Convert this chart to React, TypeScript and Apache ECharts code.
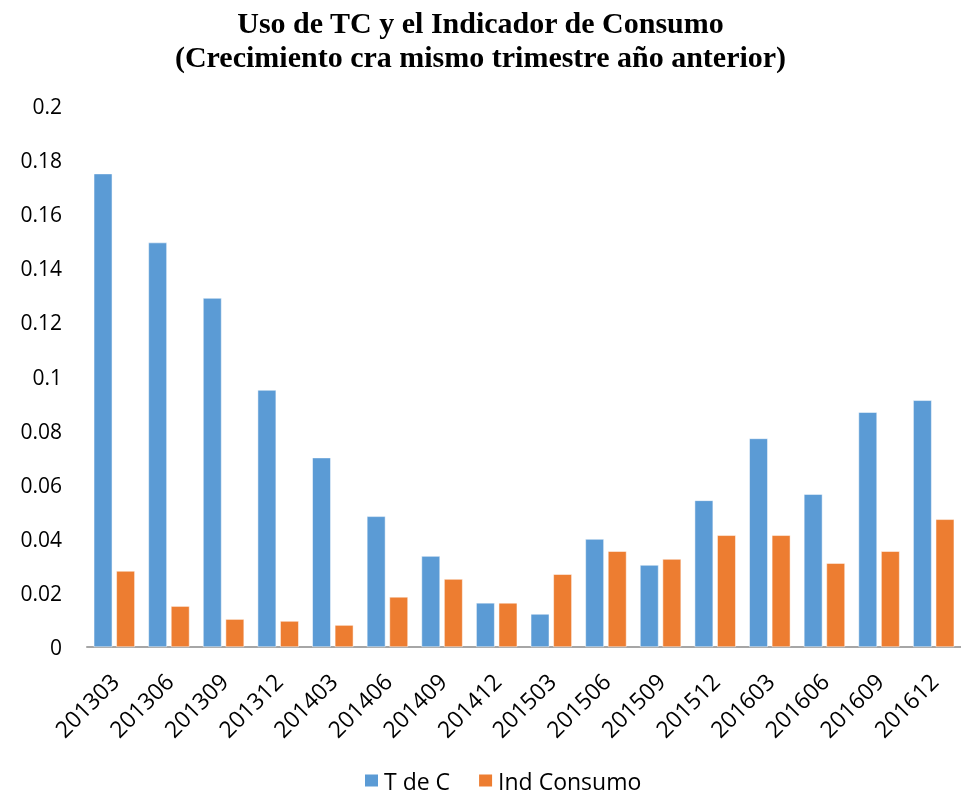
import React, { useEffect, useRef } from "react";
import * as echarts from "echarts";

const categories = ["201303","201306","201309","201312","201403","201406","201409","201412","201503","201506","201509","201512","201603","201606","201609","201612"];
const tdeC = [0.175,0.1495,0.129,0.095,0.07,0.0483,0.0336,0.0163,0.0122,0.0399,0.0303,0.0542,0.0771,0.0565,0.0868,0.0912];
const indConsumo = [0.0281,0.0151,0.0103,0.0096,0.0081,0.0185,0.0251,0.0163,0.0269,0.0354,0.0325,0.0413,0.0413,0.031,0.0354,0.0472];
const titleLines = ["Uso de TC y el Indicador de Consumo", "(Crecimiento cra mismo trimestre año anterior)"];
const seriesNames = ["T de C", "Ind Consumo"];

export default function App() {
  const ref = useRef<HTMLDivElement>(null);
  useEffect(() => {
    const chart = echarts.init(ref.current!, null, { renderer: "svg" });
    const font = "'Open Sans', 'Noto Sans', sans-serif";
    chart.setOption({
      animation: false,
      title: {
        text: titleLines.join("\n"),
        left: "center",
        top: 0,
        textStyle: {
          fontFamily: "'Liberation Serif', serif",
          fontWeight: "bold",
          fontSize: 30,
          lineHeight: 34,
          color: "#000",
        },
      },
      legend: {
        top: 769,
        left: 363,
        padding: 0,
        itemWidth: 15,
        itemHeight: 14,
        itemGap: 27,
        icon: "rect",
        textStyle: { fontFamily: font, fontSize: 23, color: "#000", lineHeight: 23 },
        data: seriesNames,
      },
      grid: { left: 87, top: 106, width: 879, bottom: 151, containLabel: false },
      xAxis: {
        type: "category",
        data: categories,
        axisLine: { lineStyle: { color: "#a6a6a6", width: 2 } },
        axisTick: { show: false },
        axisLabel: { rotate: 45, fontFamily: font, fontSize: 23, color: "#000", margin: 30 },
      },
      yAxis: {
        type: "value",
        min: 0,
        max: 0.2,
        interval: 0.02,
        splitLine: { show: false },
        axisLine: { show: false },
        axisTick: { show: false },
        axisLabel: { fontFamily: font, fontSize: 21, color: "#000", margin: 25 },
      },
      series: [
        {
          name: seriesNames[0],
          type: "bar",
          data: tdeC,
          barWidth: 18.5,
          barGap: "22%",
          itemStyle: { color: "#5B9BD5", borderColor: "#ffffff", borderWidth: 0.5 },
        },
        {
          name: seriesNames[1],
          type: "bar",
          data: indConsumo,
          barWidth: 18.5,
          itemStyle: { color: "#ED7D31", borderColor: "#ffffff", borderWidth: 0.5 },
        },
      ],
    });
    return () => chart.dispose();
  }, []);
  return <div ref={ref} style={{ position: "fixed", left: 0, top: 0, width: 961, height: 798 }} />;
}
